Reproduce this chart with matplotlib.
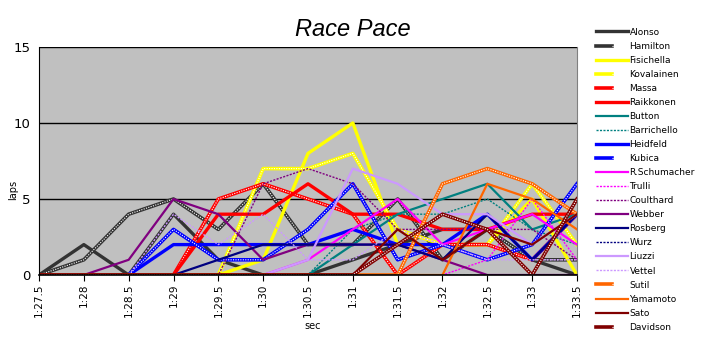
import numpy as np
import matplotlib
matplotlib.use("Agg")
import matplotlib.pyplot as plt
from matplotlib.legend_handler import HandlerTuple

# lap-time bins (0.5 s)
bins = ["1:27.5", "1:28", "1:28.5", "1:29", "1:29.5", "1:30", "1:30.5",
        "1:31", "1:31.5", "1:32", "1:32.5", "1:33", "1:33.5"]

# laps per bin, per driver
alonso       = [0, 2, 0, 4, 1, 0, 0, 1, 2, 3, 3, 1, 0]
hamilton     = [0, 1, 4, 5, 3, 6, 2, 2, 5, 1, 3, 1, 1]
fisichella   = [0, 0, 0, 0, 0, 1, 8, 10, 2, 2, 2, 5, 0]
kovalainen   = [0, 0, 0, 0, 0, 7, 7, 8, 3, 2, 2, 6, 2]
massa        = [0, 0, 0, 0, 5, 6, 5, 4, 0, 2, 2, 1, 4]
raikkonen    = [0, 0, 0, 0, 4, 4, 6, 4, 4, 3, 3, 4, 4]
button       = [0, 0, 0, 0, 0, 0, 0, 2, 4, 5, 6, 3, 4]
barrichello  = [0, 0, 0, 0, 0, 0, 0, 3, 4, 4, 5, 3, 2]
heidfeld     = [0, 0, 0, 2, 2, 2, 2, 3, 2, 2, 4, 1, 4]
kubica       = [0, 0, 0, 3, 1, 1, 3, 6, 1, 2, 1, 2, 6]
rschumacher  = [0, 0, 0, 0, 0, 0, 1, 3, 5, 2, 3, 4, 2]
trulli       = [0, 0, 0, 0, 0, 0, 0, 0, 0, 0, 1, 5, 1]
coulthard    = [0, 0, 0, 0, 0, 6, 7, 6, 3, 3, 3, 3, 1]
webber       = [0, 0, 1, 5, 4, 1, 2, 2, 2, 1, 0, 0, 0]
rosberg      = [0, 0, 0, 0, 1, 2, 2, 2, 2, 1, 4, 1, 4]
wurz         = [0, 0, 0, 0, 0, 0, 0, 0, 0, 0, 0, 0, 0]
liuzzi       = [0, 0, 0, 0, 0, 0, 1, 7, 6, 4, 4, 2, 4]
vettel       = [0, 0, 0, 4, 2, 4, 1, 1, 3, 2, 1, 1, 1]
sutil        = [0, 0, 0, 0, 0, 0, 0, 0, 0, 6, 7, 6, 4]
yamamoto     = [0, 0, 0, 0, 0, 0, 0, 0, 0, 0, 6, 5, 3]
sato         = [0, 0, 0, 0, 0, 0, 0, 0, 3, 1, 3, 2, 4]
davidson     = [0, 0, 0, 0, 0, 0, 0, 0, 2, 4, 3, 0, 5]

# name, values, colour, style ("thick", "thin", "chain" = thick with white dots, "dot")
series = [
    ("Alonso", alonso, "#333333", "thick"),
    ("Hamilton", hamilton, "#333333", "chain"),
    ("Fisichella", fisichella, "#FFFF00", "thick"),
    ("Kovalainen", kovalainen, "#FFFF00", "chain"),
    ("Massa", massa, "#FF0000", "chain"),
    ("Raikkonen", raikkonen, "#FF0000", "thick"),
    ("Button", button, "#008080", "thin"),
    ("Barrichello", barrichello, "#008080", "dot"),
    ("Heidfeld", heidfeld, "#0000FF", "thick"),
    ("Kubica", kubica, "#0000FF", "chain"),
    ("R.Schumacher", rschumacher, "#FF00FF", "thin"),
    ("Trulli", trulli, "#FF00FF", "dot"),
    ("Coulthard", coulthard, "#800080", "dot"),
    ("Webber", webber, "#800080", "thin"),
    ("Rosberg", rosberg, "#000080", "thin"),
    ("Wurz", wurz, "#000080", "dot"),
    ("Liuzzi", liuzzi, "#CC99FF", "thin"),
    ("Vettel", vettel, "#CC99FF", "dot"),
    ("Sutil", sutil, "#FF6600", "chain"),
    ("Yamamoto", yamamoto, "#FF6600", "thin"),
    ("Sato", sato, "#800000", "thin"),
    ("Davidson", davidson, "#800000", "chain"),
]

fig = plt.figure(figsize=(7.08, 3.40), dpi=100)
ax = fig.add_axes([39 / 708, 1 - 275 / 340, 538 / 708, 228 / 340])
ax.set_facecolor("#C0C0C0")

x = np.arange(len(bins))
handles = []
for name, vals, col, style in series:
    if style == "thick":
        ln, = ax.plot(x, vals, color=col, lw=2.4)
        handles.append(ln)
    elif style == "thin":
        ln, = ax.plot(x, vals, color=col, lw=1.6)
        handles.append(ln)
    elif style == "chain":
        a, = ax.plot(x, vals, color=col, lw=2.6)
        b, = ax.plot(x, vals, color="white", lw=0.8, ls=(0, (1, 1.2)))
        handles.append((a, b))
    else:
        ln, = ax.plot(x, vals, color=col, lw=1.0, ls=(0, (1.5, 1)))
        handles.append(ln)

ax.set_xlim(0, len(bins) - 1)
ax.set_ylim(0, 15)
ax.set_yticks([0, 5, 10, 15])
ax.set_xticks(x)
ax.set_xticklabels(bins, rotation=90, fontsize=7.5)
ax.tick_params(axis="y", labelsize=9.5, length=0, pad=6)
ax.tick_params(axis="x", length=4, direction="out", pad=2)
ax.grid(axis="y", color="black", lw=1)
ax.set_axisbelow(True)
ax.spines["top"].set_visible(False)
ax.spines["right"].set_color("#808080")
ax.spines["left"].set_color("black")
ax.spines["bottom"].set_color("black")
ax.spines["bottom"].set_linewidth(1.2)

# axis titles placed in figure pixels so they stay inside the canvas
fig.text(13 / 708, 1 - 190 / 340, "laps", rotation=90, ha="center", va="center", fontsize=7)
fig.text(313 / 708, 1 - 326 / 340, "sec", ha="center", va="center", fontsize=7)
fig.text(353 / 708, 1 - 30 / 340, "Race Pace", ha="center", va="center",
         fontsize=17, style="italic", family="Liberation Sans")

names = [s[0] for s in series]
fig.legend(handles, names, loc="upper left", bbox_to_anchor=(592 / 708, 1 - 24 / 340),
           frameon=False, fontsize=6.5, handlelength=3.6, handletextpad=0.15,
           labelspacing=0.56, borderaxespad=0,
           handler_map={tuple: HandlerTuple(ndivide=None, pad=0)})

fig.savefig("out.png", dpi=100)
